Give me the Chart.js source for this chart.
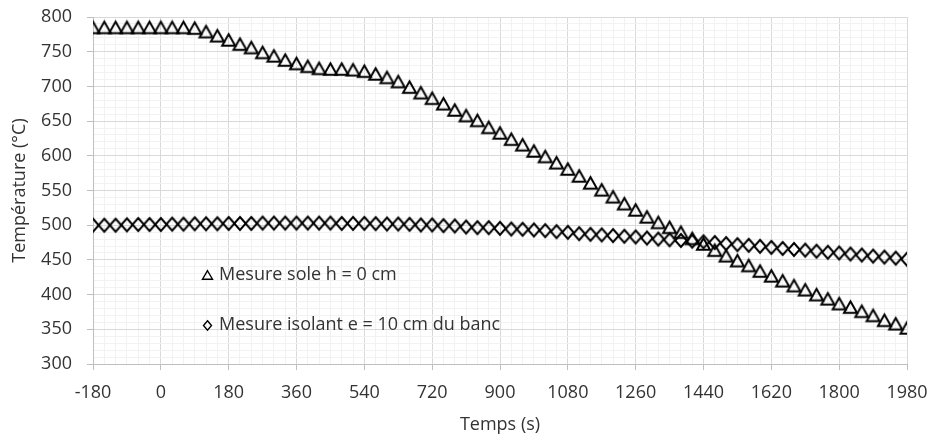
<!DOCTYPE html>
<html>
<head>
<meta charset="utf-8">
<title>Température</title>
<script src="https://cdn.jsdelivr.net/npm/chart.js@4.4.0/dist/chart.umd.min.js"></script>
<style>
  html, body { margin: 0; padding: 0; background: #fff; }
  #wrap { width: 932px; height: 438px; position: relative; }
</style>
</head>
<body>
<div id="wrap"><canvas id="myChart"></canvas></div>
<script>
// temps en secondes (un point toutes les 30 s)
var temps = [-180, -150, -120, -90, -60, -30, 0, 30, 60, 90, 120, 150, 180, 210, 240, 270,
  300, 330, 360, 390, 420, 450, 480, 510, 540, 570, 600, 630, 660, 690, 720, 750, 780, 810,
  840, 870, 900, 930, 960, 990, 1020, 1050, 1080, 1110, 1140, 1170, 1200, 1230, 1260, 1290,
  1320, 1350, 1380, 1410, 1440, 1470, 1500, 1530, 1560, 1590, 1620, 1650, 1680, 1710, 1740,
  1770, 1800, 1830, 1860, 1890, 1920, 1950, 1980];

// Mesure sole h = 0 cm (triangles)
var mesureSole = [785, 785, 785, 785, 785, 785, 785, 785, 785, 784, 779, 773, 767, 761, 756,
  749, 744, 738, 733, 729, 726, 725, 725, 724, 722, 718, 713, 707, 699, 691, 683, 675, 666,
  658, 651, 641, 633, 624, 616, 607, 599, 590, 581, 571, 561, 551, 541, 531, 522, 512, 504,
  497, 490, 481, 473, 464, 456, 449, 442, 434, 427, 420, 413, 407, 400, 394, 387, 382, 376,
  370, 363, 358, 352];

// Mesure isolant e = 10 cm du banc (losanges)
var mesureIsolant = [500, 500, 500, 500.5, 501, 501, 501, 501.5, 501.5, 502, 502, 502, 502.5,
  502.5, 502.5, 503, 503, 503, 503, 503, 503, 503, 502.5, 502.6, 502.6, 502.2, 501.7, 501.7,
  501.2, 500.3, 500.3, 499.3, 498.9, 497.4, 496.5, 496.5, 495.5, 494.5, 494.1, 493.1, 492.1,
  490.7, 489.7, 487.8, 486.8, 486, 485, 484, 483, 481.5, 480, 479, 478, 477, 476, 475, 473.5,
  472, 471, 469.5, 468, 466.5, 465, 464, 462.5, 461, 460, 458.5, 457, 455.5, 454, 452.5, 451];

var labelsSeries = ['Mesure sole h = 0 cm', 'Mesure isolant e = 10 cm du banc'];
var xTitre = 'Temps (s)';
var yTitre = 'Température (°C)';

var police = "'Open Sans', sans-serif";
var couleurTexte = '#333333';

// marqueurs creux façon Excel (centrés sur leur boîte)
function marqueur(forme, w, h, lw) {
  var c = document.createElement('canvas');
  var pad = lw + 1;
  c.width = Math.ceil(w + 2 * pad);
  c.height = Math.ceil(h + 2 * pad);
  var g = c.getContext('2d');
  var cx = c.width / 2, cy = c.height / 2;
  g.strokeStyle = '#000';
  g.lineWidth = lw;
  g.lineJoin = 'miter';
  g.beginPath();
  if (forme === 'tri') {
    g.moveTo(cx, cy - h / 2);
    g.lineTo(cx + w / 2, cy + h / 2);
    g.lineTo(cx - w / 2, cy + h / 2);
  } else {
    g.moveTo(cx, cy - h / 2);
    g.lineTo(cx + w / 2, cy);
    g.lineTo(cx, cy + h / 2);
    g.lineTo(cx - w / 2, cy);
  }
  g.closePath();
  g.stroke();
  return c;
}

var triGrand = marqueur('tri', 13, 11.5, 2);
var losGrand = marqueur('los', 11.5, 13, 2);
var triPetit = marqueur('tri', 10, 8.5, 1.4);
var losPetit = marqueur('los', 8, 9.5, 1.4);

// légende à l'intérieur de la zone de tracé
var legendeInterne = {
  id: 'legendeInterne',
  afterDatasetsDraw: function (chart) {
    var ctx = chart.ctx, area = chart.chartArea;
    var petits = [triPetit, losPetit];
    var rangs = [area.top + 258, area.top + 308];
    ctx.save();
    ctx.font = '18px ' + police;
    ctx.fillStyle = couleurTexte;
    ctx.textBaseline = 'middle';
    ctx.textAlign = 'left';
    chart.data.datasets.forEach(function (ds, i) {
      var sx = area.left + 114, sy = rangs[i];
      ctx.drawImage(petits[i], Math.round(sx - petits[i].width / 2), Math.round(sy - petits[i].height / 2));
      ctx.fillText(ds.label, sx + 12, sy);
    });
    ctx.restore();
  }
};

var ctx = document.getElementById('myChart').getContext('2d');
var chart = new Chart(ctx, {
  type: 'scatter',
  data: {
    datasets: [{
      label: labelsSeries[0],
      data: temps.map(function (t, i) { return { x: t, y: mesureSole[i] }; }),
      pointStyle: triGrand,
      showLine: false,
      order: 2
    }, {
      label: labelsSeries[1],
      data: temps.map(function (t, i) { return { x: t, y: mesureIsolant[i] }; }),
      pointStyle: losGrand,
      showLine: false,
      order: 1
    }]
  },
  options: {
    responsive: true,
    maintainAspectRatio: false,
    animation: false,
    layout: { padding: { left: 0, right: 25, top: 17, bottom: 0 } },
    plugins: {
      legend: { display: false },
      tooltip: { enabled: false }
    },
    scales: {
      x: {
        type: 'linear',
        min: -180,
        max: 1980,
        afterFit: function (s) { s.height = 74; s.paddingLeft = 0; s.paddingRight = 0; },
        ticks: {
          stepSize: 30,
          autoSkip: false,
          maxRotation: 0,
          padding: 12,
          color: couleurTexte,
          font: { family: police, size: 18 },
          callback: function (v) { return v % 180 === 0 ? v : ''; }
        },
        grid: {
          color: function (c) { return c.tick && c.tick.value % 180 === 0 ? '#d9d9d9' : '#f2f2f2'; },
          tickColor: function (c) { return c.tick && c.tick.value % 180 === 0 ? '#bfbfbf' : 'rgba(0,0,0,0)'; },
          tickLength: 6
        },
        border: { color: '#bfbfbf' },
        title: {
          display: true,
          text: xTitre,
          color: couleurTexte,
          font: { family: police, size: 18 },
          padding: { top: 4, bottom: 2 }
        }
      },
      y: {
        min: 300,
        max: 800,
        afterFit: function (s) { s.width = 93; s.paddingTop = 0; s.paddingBottom = 0; },
        ticks: {
          stepSize: 10,
          autoSkip: false,
          padding: 15,
          color: couleurTexte,
          font: { family: police, size: 18 },
          callback: function (v) { return v % 50 === 0 ? v : ''; }
        },
        grid: {
          color: function (c) { return c.tick && c.tick.value % 50 === 0 ? '#d9d9d9' : '#f2f2f2'; },
          tickColor: function (c) { return c.tick && c.tick.value % 50 === 0 ? '#bfbfbf' : 'rgba(0,0,0,0)'; },
          tickLength: 6
        },
        border: { color: '#bfbfbf' },
        title: {
          display: true,
          text: yTitre,
          color: couleurTexte,
          font: { family: police, size: 18 },
          padding: { top: 9, bottom: 4 }
        }
      }
    }
  },
  plugins: [legendeInterne]
});
</script>
</body>
</html>
